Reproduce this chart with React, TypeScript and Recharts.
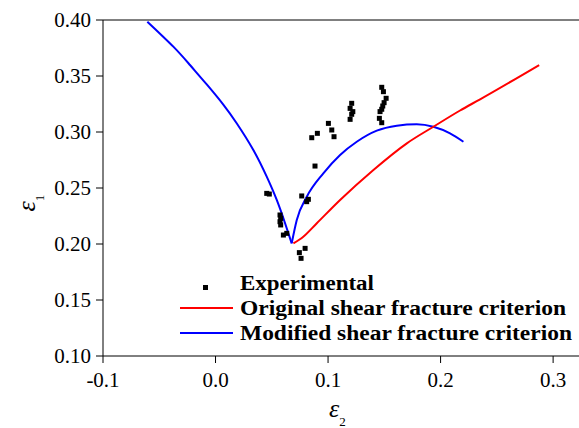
import { ComposedChart, Line, Scatter, XAxis, YAxis, ReferenceLine } from "recharts"

// experimental forming limit points (e2, e1)
const experimental = [
  { x: 0.1477, y: 0.3399 }, { x: 0.1492, y: 0.336 }, { x: 0.1516, y: 0.3301 }, { x: 0.1498, y: 0.3262 },
  { x: 0.1486, y: 0.3232 }, { x: 0.1477, y: 0.3203 }, { x: 0.1462, y: 0.3182 }, { x: 0.1456, y: 0.3122 },
  { x: 0.1477, y: 0.3083 }, { x: 0.121, y: 0.3256 }, { x: 0.1196, y: 0.3211 }, { x: 0.122, y: 0.3182 },
  { x: 0.121, y: 0.3158 }, { x: 0.1196, y: 0.3113 }, { x: 0.1003, y: 0.3077 }, { x: 0.1033, y: 0.3018 },
  { x: 0.1053, y: 0.2958 }, { x: 0.0905, y: 0.2988 }, { x: 0.0855, y: 0.2949 }, { x: 0.0884, y: 0.2696 },
  { x: 0.0455, y: 0.2452 }, { x: 0.0478, y: 0.2446 }, { x: 0.0766, y: 0.2429 }, { x: 0.0825, y: 0.2399 },
  { x: 0.081, y: 0.2378 }, { x: 0.0573, y: 0.2259 }, { x: 0.0579, y: 0.2229 }, { x: 0.0573, y: 0.2199 },
  { x: 0.0579, y: 0.217 }, { x: 0.0603, y: 0.208 }, { x: 0.0633, y: 0.2095 }, { x: 0.0796, y: 0.1961 },
  { x: 0.0745, y: 0.1923 }, { x: 0.076, y: 0.1872 },
]

const originalCriterion = [
  { x: 0.0692, y: 0.2006 }, { x: 0.078, y: 0.2065 }, { x: 0.09, y: 0.2185 }, { x: 0.1107, y: 0.2393 },
  { x: 0.1403, y: 0.2661 }, { x: 0.17, y: 0.2899 }, { x: 0.1936, y: 0.3047 }, { x: 0.2173, y: 0.3192 },
  { x: 0.2351, y: 0.3292 }, { x: 0.2876, y: 0.3598 },
]

// modified criterion has a cusp at the minimum, so keep the two branches apart
const modifiedLeft = [
  { x: -0.0606, y: 0.3985 }, { x: -0.0375, y: 0.3762 }, { x: -0.0227, y: 0.3598 }, { x: -0.0078, y: 0.3425 },
  { x: 0.0069, y: 0.3245 }, { x: 0.0188, y: 0.3078 }, { x: 0.0336, y: 0.2839 }, { x: 0.0455, y: 0.2601 },
  { x: 0.0544, y: 0.2393 }, { x: 0.0618, y: 0.2185 }, { x: 0.0677, y: 0.2006 },
]
const modifiedRight = [
  { x: 0.0677, y: 0.2006 }, { x: 0.0722, y: 0.2214 }, { x: 0.0811, y: 0.2422 }, { x: 0.0958, y: 0.2631 },
  { x: 0.1107, y: 0.2795 }, { x: 0.1255, y: 0.2913 }, { x: 0.1433, y: 0.3012 }, { x: 0.1611, y: 0.3056 },
  { x: 0.1788, y: 0.3069 }, { x: 0.1936, y: 0.3047 }, { x: 0.2084, y: 0.2988 }, { x: 0.2203, y: 0.2913 },
]

const xTicks = [-0.1, 0, 0.1, 0.2, 0.3]
const yTicks = [0.1, 0.15, 0.2, 0.25, 0.3, 0.35, 0.4]

const FONT = "'Liberation Serif', 'Times New Roman', 'DejaVu Serif', serif"

const Square = (props: any) => <rect x={props.cx - 2.5} y={props.cy - 2.5} width={5} height={5} fill="#000" />

const XLabel = (props: any) => {
  const vb = props.viewBox
  return (
    <text x={vb.x + 226} y={vb.y + 61} fontStyle="italic" fontSize={26} fill="#000">
      ε<tspan fontSize={13} fontStyle="normal" dy={9}>2</tspan>
    </text>
  )
}

const YLabel = () => (
  <text x={35} y={203} transform="rotate(-90, 35, 203)" textAnchor="middle" fontStyle="italic" fontSize={26} fill="#000">
    ε<tspan fontSize={13} fontStyle="normal" dy={9}>1</tspan>
  </text>
)

export default function App() {
  return (
    <div style={{ position: "absolute", left: 0, top: 0, width: 579, height: 428, background: "#fff" }}>
      <style>{`svg text, svg tspan { font-family: ${FONT} !important; }`}</style>
      <ComposedChart width={579} height={428} margin={{ top: 20, right: 0, bottom: 0, left: 0 }}>
        <XAxis
          dataKey="x"
          type="number"
          domain={[-0.1, 0.323]}
          ticks={xTicks}
          allowDataOverflow
          height={72}
          tickSize={7}
          tickMargin={9}
          stroke="#000"
          tick={{ fill: "#000", fontSize: 21 }}
          tickFormatter={(v: number) => v.toFixed(1)}
          label={<XLabel />}
        />
        <YAxis
          dataKey="y"
          type="number"
          domain={[0.1, 0.4]}
          ticks={yTicks}
          allowDataOverflow
          width={103}
          tickSize={7}
          tickMargin={5}
          stroke="#000"
          tick={{ fill: "#000", fontSize: 21 }}
          tickFormatter={(v: number) => v.toFixed(2)}
          label={<YLabel />}
        />
        <ReferenceLine y={0.4} stroke="#000" strokeWidth={1} ifOverflow="visible" />
        <Line data={modifiedLeft} dataKey="y" type="natural" stroke="#0000ff" strokeWidth={2} dot={false} isAnimationActive={false} />
        <Line data={modifiedRight} dataKey="y" type="monotone" stroke="#0000ff" strokeWidth={2} dot={false} isAnimationActive={false} />
        <Line data={originalCriterion} dataKey="y" type="monotone" stroke="#ff0000" strokeWidth={2} dot={false} isAnimationActive={false} />
        <Scatter data={experimental} dataKey="y" shape={<Square />} isAnimationActive={false} />
      </ComposedChart>
      <svg width={404} height={80} style={{ position: "absolute", left: 175, top: 264 }}>
        <g fontWeight="bold" fontSize={20} fill="#000">
          <rect x={28} y={21} width={5} height={5} fill="#000" />
          <text x={65} y={26} textLength={134} lengthAdjust="spacingAndGlyphs">Experimental</text>
          <line x1={5} x2={58} y1={44} y2={44} stroke="#ff0000" strokeWidth={2} />
          <text x={65} y={51} textLength={326} lengthAdjust="spacingAndGlyphs">Original shear fracture criterion</text>
          <line x1={5} x2={58} y1={69} y2={69} stroke="#0000ff" strokeWidth={2} />
          <text x={65} y={76} textLength={332} lengthAdjust="spacingAndGlyphs">Modified shear fracture criterion</text>
        </g>
      </svg>
    </div>
  )
}
